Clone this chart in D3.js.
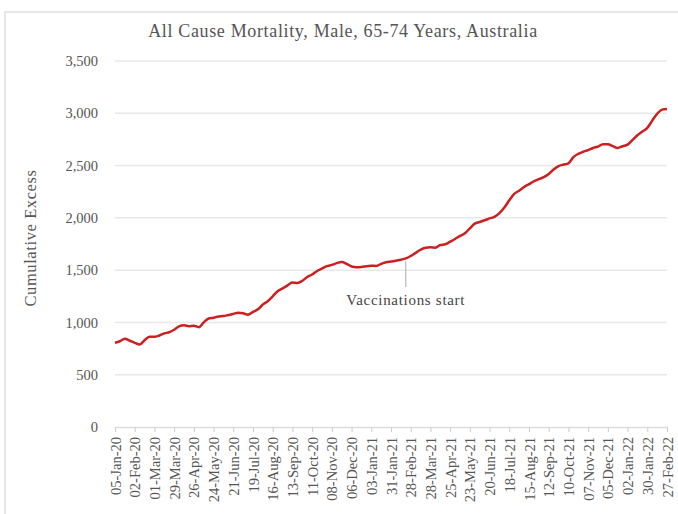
<!DOCTYPE html>
<html>
<head>
<meta charset="utf-8">
<script src="https://cdn.jsdelivr.net/npm/d3@7"></script>
<style>
  body { margin: 0; background: #fff; }
  text { font-family: "Liberation Serif", "DejaVu Serif", serif; }
</style>
</head>
<body>
<svg id="chart" width="678" height="514"></svg>
<script>
// weekly cumulative excess deaths, week ending 05-Jan-20 .. 27-Feb-22
var excess = [
  806, 820, 845, 825, 805, 788, 830, 862, 862, 875,
  895, 906, 930, 962, 972, 964, 968, 955, 1000, 1038,
  1045, 1057, 1061, 1071, 1081, 1093, 1087, 1074, 1100, 1125,
  1172, 1203, 1250, 1298, 1325, 1355, 1382, 1378, 1398, 1435,
  1458, 1492, 1515, 1538, 1550, 1567, 1577, 1560, 1535, 1528,
  1530, 1538, 1542, 1540, 1560, 1575, 1583, 1590, 1600, 1612,
  1635, 1665, 1695, 1715, 1718, 1715, 1740, 1747, 1772, 1798,
  1827, 1852, 1900, 1945, 1960, 1977, 1995, 2010, 2045, 2098,
  2168, 2230, 2260, 2295, 2322, 2350, 2370, 2390, 2420, 2462,
  2495, 2510, 2522, 2580, 2612, 2632, 2648, 2668, 2682, 2705,
  2705, 2686, 2668, 2685, 2700, 2745, 2790, 2825, 2860, 2930,
  2995, 3035, 3040
];

// one label every 4 weeks
var tickLabels = [
  '05-Jan-20', '02-Feb-20', '01-Mar-20', '29-Mar-20', '26-Apr-20', '24-May-20',
  '21-Jun-20', '19-Jul-20', '16-Aug-20', '13-Sep-20', '11-Oct-20', '08-Nov-20',
  '06-Dec-20', '03-Jan-21', '31-Jan-21', '28-Feb-21', '28-Mar-21', '25-Apr-21',
  '23-May-21', '20-Jun-21', '18-Jul-21', '15-Aug-21', '12-Sep-21', '10-Oct-21',
  '07-Nov-21', '05-Dec-21', '02-Jan-22', '30-Jan-22', '27-Feb-22'
];

var yTicks = [0, 500, 1000, 1500, 2000, 2500, 3000, 3500];

var annotationWeek = 59; // 21-Feb-21
var annotationText = 'Vaccinations start';

var svg = d3.select('#chart');

// light frame round the figure
svg.append('rect')
  .attr('x', 5).attr('y', 12)
  .attr('width', 720).attr('height', 600)
  .attr('fill', 'none')
  .attr('stroke', '#e6e6e6')
  .attr('stroke-width', 2);

var x = d3.scaleLinear().domain([0, excess.length - 1]).range([115, 667]);
var y = d3.scaleLinear().domain([0, 3500]).range([427, 61]);

// gridlines
svg.append('g')
  .selectAll('line')
  .data(yTicks.filter(function(d) { return d > 0; }))
  .enter().append('line')
  .attr('x1', x.range()[0]).attr('x2', x.range()[1])
  .attr('y1', function(d) { return y(d); })
  .attr('y2', function(d) { return y(d); })
  .attr('stroke', '#e8e8e8')
  .attr('stroke-width', 1.5);

// y axis labels, no axis line
var yAxis = d3.axisLeft(y)
  .tickValues(yTicks)
  .tickSize(0)
  .tickPadding(17)
  .tickFormat(d3.format(','));

svg.append('g')
  .attr('transform', 'translate(' + x.range()[0] + ',0)')
  .call(yAxis)
  .call(function(g) { g.select('.domain').remove(); })
  .selectAll('text')
  .attr('font-size', '14.5px')
  .attr('fill', '#555')
  .style('font-family', '"Liberation Serif", serif');

// x axis
var xAxis = d3.axisBottom(x)
  .tickValues(tickLabels.map(function(d, i) { return i * 4; }))
  .tickSize(5)
  .tickSizeOuter(0)
  .tickFormat(function(d) { return tickLabels[d / 4]; });

var gx = svg.append('g')
  .attr('transform', 'translate(0,' + y(0) + ')')
  .call(xAxis);

gx.select('.domain').attr('stroke', '#ddd').attr('stroke-width', 1.5);
gx.selectAll('.tick line').attr('stroke', '#ccc');
gx.selectAll('.tick text')
  .attr('font-size', '14.5px')
  .attr('fill', '#555')
  .style('font-family', '"Liberation Serif", serif')
  .attr('text-anchor', 'end')
  .attr('transform', 'rotate(-90)')
  .attr('x', -10)
  .attr('y', 0)
  .attr('dy', '0.35em');

// annotation
svg.append('line')
  .attr('x1', x(annotationWeek)).attr('x2', x(annotationWeek))
  .attr('y1', y(excess[annotationWeek]) + 3)
  .attr('y2', 287)
  .attr('stroke', '#aaa')
  .attr('stroke-width', 1);

svg.append('text')
  .attr('x', x(annotationWeek))
  .attr('y', 305)
  .attr('text-anchor', 'middle')
  .attr('font-size', '15px')
  .attr('letter-spacing', '0.7px')
  .attr('fill', '#444')
  .text(annotationText);

// the line
var line = d3.line()
  .x(function(d, i) { return x(i); })
  .y(function(d) { return y(d); })
  .curve(d3.curveMonotoneX);

svg.append('path')
  .datum(excess)
  .attr('d', line)
  .attr('fill', 'none')
  .attr('stroke', '#cc1f1f')
  .attr('stroke-width', 2.5)
  .attr('stroke-linejoin', 'round');

// title
svg.append('text')
  .attr('x', 343)
  .attr('y', 37)
  .attr('text-anchor', 'middle')
  .attr('font-size', '18px')
  .attr('letter-spacing', '0.65px')
  .attr('fill', '#555')
  .text('All Cause Mortality, Male, 65-74 Years, Australia');

// y axis title
svg.append('text')
  .attr('transform', 'translate(36,238) rotate(-90)')
  .attr('text-anchor', 'middle')
  .attr('font-size', '16.5px')
  .attr('letter-spacing', '0.6px')
  .attr('fill', '#555')
  .text('Cumulative Excess');
</script>
</body>
</html>
